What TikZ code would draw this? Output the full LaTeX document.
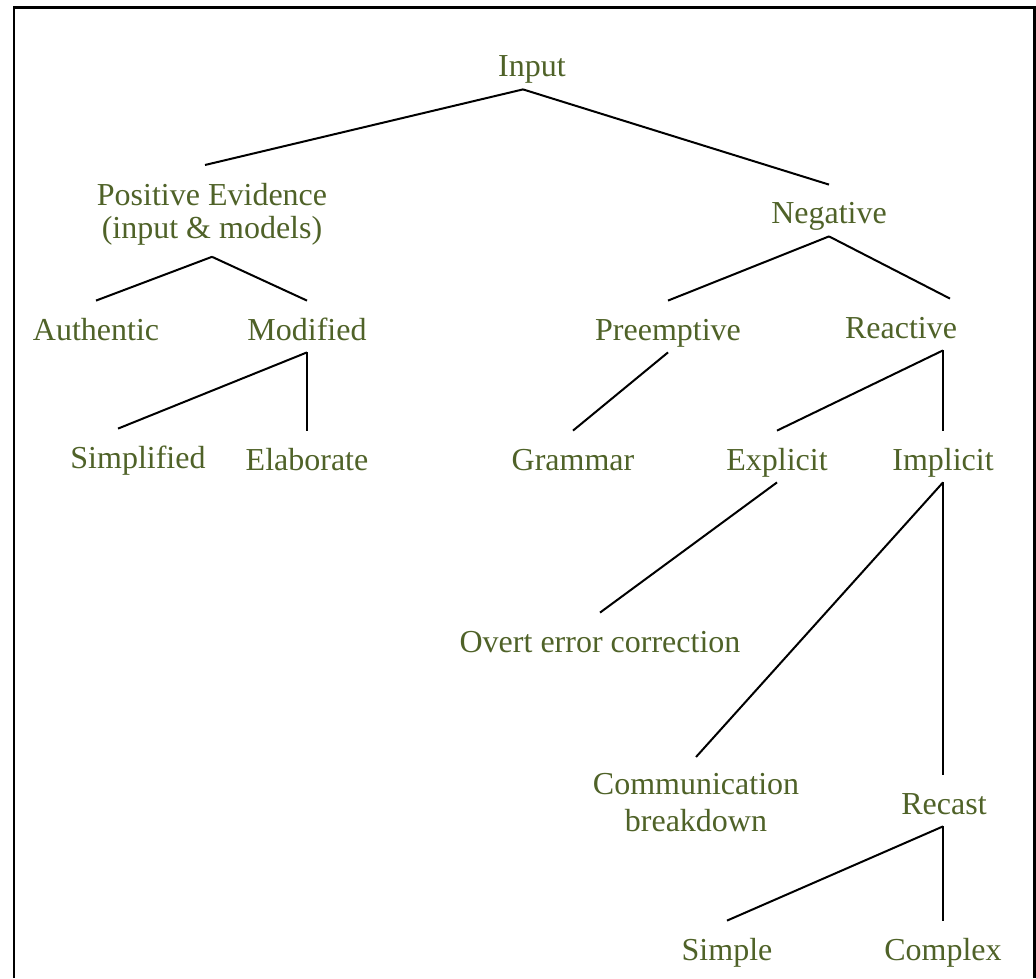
\documentclass[tikz,border=0pt]{standalone}
\usepackage{fontspec}
\setmainfont{Liberation Serif}
\definecolor{olivetext}{HTML}{4F6228}
\tikzset{
  lbl/.style={anchor=base, text=olivetext, inner sep=0pt, text height=19.5pt, text depth=6pt},
  lbltwo/.style={anchor=north, text=olivetext, align=center, inner xsep=0pt},
  branch/.style={line width=1pt}
}
\begin{document}
\begin{tikzpicture}[x=0.5pt, y=-0.5pt, font=\fontsize{16}{16.5}\selectfont]
\useasboundingbox (0,0) rectangle (1036,978);
\draw[line width=1.25pt] (14,978) -- (14,7.5) -- (1034.5,7.5) -- (1034.5,978);

\node[lbl] (input) at (532,77) {Input};
\node[lbltwo, inner ysep=9pt] (posev) at (212,165) {Positive Evidence\\(input \& models)};
\node[lbl] (negative) at (829,224) {Negative};
\node[lbl] (authentic) at (96,340) {Authentic};
\node[lbl] (modified) at (307,340) {Modified};
\node[lbl] (preemptive) at (668,340) {Preemptive};
\node[lbl] (reactive) at (901,338) {Reactive};
\node[lbl] (simplified) at (138,468) {Simplified};
\node[lbl] (elaborate) at (307,470) {Elaborate};
\node[lbl] (grammar) at (573,470) {Grammar};
\node[lbl] (explicit) at (777,470) {Explicit};
\node[lbl] (implicit) at (943,470) {Implicit};
\node[lbl] (overt) at (600,652) {Overt error correction};
\node[lbltwo, inner ysep=8.2pt, font=\fontsize{16}{18.5}\selectfont] (communication) at (696,757) {Communication\\breakdown};
\node[lbl] (recast) at (944,814) {Recast};
\node[lbl] (simple) at (727,960) {Simple};
\node[lbl] (complex) at (943,960) {Complex};

\draw[branch] ([xshift=-4.5pt]input.south) -- ([xshift=-3.5pt]posev.north);
\draw[branch] ([xshift=-4.5pt]input.south) -- (negative.north);
\draw[branch] ([yshift=3.5pt]posev.south) -- (authentic.north);
\draw[branch] ([yshift=3.5pt]posev.south) -- (modified.north);
\draw[branch] (negative.south) -- (preemptive.north);
\draw[branch] (negative.south) -- ([xshift=24.5pt]reactive.north);
\draw[branch] (modified.south) -- ([xshift=-10pt]simplified.north);
\draw[branch] (modified.south) -- (elaborate.north);
\draw[branch] (preemptive.south) -- (grammar.north);
\draw[branch] (reactive.south -| implicit) -- (explicit.north);
\draw[branch] (reactive.south -| implicit) -- (implicit.north);
\draw[branch] (explicit.south) -- (overt.north);
\draw[branch] (implicit.south) -- (communication.north);
\draw[branch] (implicit.south) -- (implicit.south |- recast.north);
\draw[branch] (recast.south -| complex) -- (simple.north);
\draw[branch] (recast.south -| complex) -- (complex.north);
\end{tikzpicture}
\end{document}
